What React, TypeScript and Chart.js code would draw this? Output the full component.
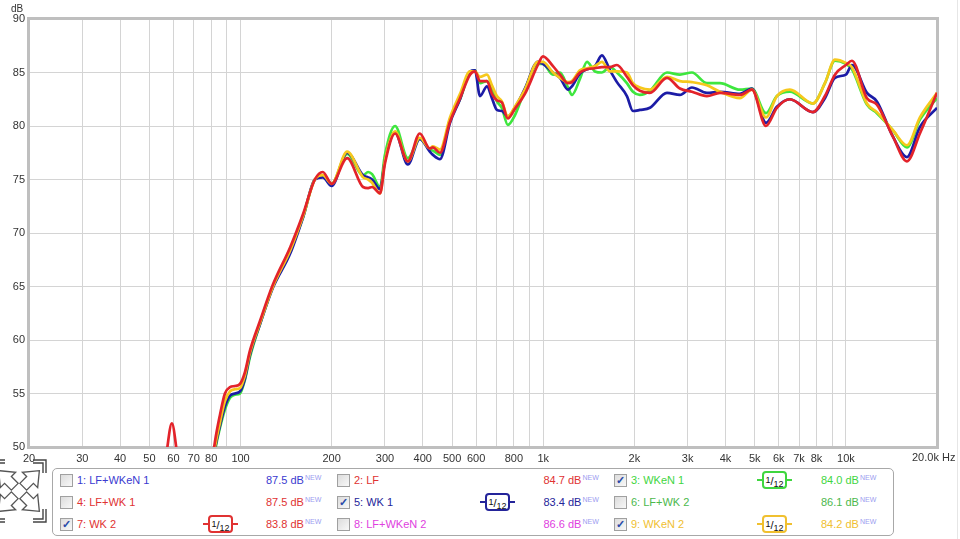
import React, { useEffect, useRef } from 'react';
import { Chart, registerables } from 'chart.js';

Chart.register(...registerables);

// Frequencies (Hz) shared by all measured traces
const freqs = [
  20, 40, 50, 54, 57, 59.3, 61.6, 65.5, 73, 79.3,
  82.3, 85.5, 88.8, 92.3, 95.8, 99.6, 103.4, 107.4,
  116, 128, 146, 161, 176, 187, 200,
  225, 254, 264, 272, 289,
  300, 324, 357, 391, 422, 432, 456,
  492, 531, 573, 595,
  618, 652, 677, 703, 730, 764, 806, 870,
  960, 998, 1077, 1136, 1207, 1244,
  1322, 1395, 1482, 1563, 1662, 1752,
  1890, 1979, 2086, 2252,
  2564, 2829, 3100, 3474, 3836, 4467, 4893,
  5444, 5917, 6532, 7782, 8526,
  9200, 10000, 10472, 11736, 12660,
  14304, 15910, 17560, 20000,
];

// 7: WK 2 (red)
const wk2 = [
  20, 30, 38, 44, 49.5, 52.2, 49.5, 43, 42.5, 47.0,
  50.5, 53.0, 55.0, 55.6, 55.7, 55.9, 57.0, 59.0,
  61.8, 65.2, 68.7, 71.8, 75.0, 75.7, 74.6,
  77.0, 74.3, 74.2, 74.3, 73.7,
  76.5, 79.3, 76.7, 79.3, 77.9, 78.0, 77.5,
  80.4, 82.6, 84.8, 85.1,
  84.2, 84.2, 83.0, 82.4, 82.2, 80.7, 81.6, 83.0,
  85.7, 86.5, 85.6, 84.8, 84.0, 84.1,
  85.0, 85.3, 85.4, 85.5, 85.5, 85.7,
  84.6, 83.8, 83.3, 83.1,
  84.5, 83.5, 83.2, 82.8, 83.1, 82.9, 83.4,
  80.0, 81.7, 82.5, 81.3, 82.8,
  84.8, 85.7, 86.1, 82.6, 82.0,
  79.0, 76.7, 79.3, 83.1,
];

// 9: WKeN 2 (yellow)
const wken2 = [
  20, 30, 33, 35, 36, 37, 38, 39.5, 42.5, 46.8,
  50.0, 52.3, 54.3, 55.2, 55.4, 55.5, 56.7, 58.8,
  61.6, 65.0, 68.4, 71.6, 75.0, 75.4, 74.6,
  77.6, 75.2, 75.0, 74.7, 73.7,
  76.8, 79.5, 76.7, 78.9, 77.9, 78.1, 77.8,
  80.8, 83.0, 85.1, 85.1,
  84.6, 84.8, 83.8, 82.8, 82.3, 80.9, 81.8, 83.4,
  86.0, 86.0, 85.0, 84.5, 84.1, 84.2,
  85.2, 85.4, 85.6, 86.0, 85.1, 85.1,
  85.0, 84.0, 83.6, 83.4,
  84.6, 84.2, 84.1, 83.8, 83.2, 82.6, 83.4,
  80.8, 82.8, 83.4, 82.1, 84.0,
  86.2, 85.9, 85.5, 82.1, 81.3,
  79.6, 78.2, 80.8, 83.1,
];

// 5: WK 1 (blue)
const wk1 = [
  20, 30, 33, 35, 36, 37, 38, 39.5, 42.5, 46.6,
  49.8, 52.0, 53.8, 54.8, 55.0, 55.2, 56.4, 58.6,
  61.5, 64.9, 68.1, 71.5, 75.0, 75.2, 74.4,
  77.5, 75.4, 75.2, 75.0, 74.1,
  76.8, 79.4, 76.4, 78.8, 77.6, 77.3, 76.9,
  80.3, 82.5, 85.1, 85.2,
  82.8, 83.7, 82.6, 81.5, 81.4, 80.9, 81.7, 83.5,
  86.0, 85.8, 85.0, 84.5, 83.4, 83.7,
  84.9, 85.3, 85.6, 86.6, 85.2, 84.1,
  82.8, 81.4, 81.5, 81.7,
  83.1, 82.9, 83.6, 83.1, 83.2, 83.0, 83.5,
  80.3, 81.8, 82.5, 81.3, 82.6,
  84.5, 84.8, 85.7, 83.1, 82.3,
  79.0, 77.1, 79.9, 81.7,
];

// 3: WKeN 1 (green)
const wken1 = [
  20, 30, 33, 35, 36, 37, 38, 39.5, 42.5, 46.4,
  49.6, 51.8, 53.5, 54.6, 54.9, 55.0, 56.3, 58.4,
  61.5, 65.0, 68.4, 71.5, 75.0, 75.3, 74.6,
  77.4, 75.4, 75.7, 75.5, 74.3,
  77.3, 80.0, 77.0, 78.8, 77.8, 77.7, 77.3,
  80.6, 82.5, 85.0, 85.2,
  84.0, 84.2, 83.5, 82.3, 81.7, 80.1, 81.0, 83.4,
  85.8, 85.8, 84.8, 85.0, 83.6, 82.9,
  84.4, 86.0, 85.1, 85.0, 85.5, 85.0,
  84.0, 83.2, 82.9, 83.3,
  85.0, 84.8, 85.0, 84.0, 84.0, 83.4, 83.5,
  81.2, 82.8, 83.2, 82.1, 84.0,
  86.1, 85.8, 85.3, 82.0, 81.2,
  79.6, 78.0, 80.6, 82.6,
];

const xTickValues = [
  20, 30, 40, 50, 60, 70, 80, 90, 100, 200, 300, 400, 500, 600, 700, 800, 900,
  1000, 2000, 3000, 4000, 5000, 6000, 7000, 8000, 9000, 10000, 20000,
];
const xTickLabels = [
  '20', '30', '40', '50', '60', '70', '80', '', '100', '200', '300', '400', '500', '600', '', '800', '',
  '1k', '2k', '3k', '4k', '5k', '6k', '7k', '8k', '', '10k', '',
];
const xEndLabel = '20.0k Hz';
const yMin = 50;
const yMax = 90;
const yStep = 5;

// Legend table (numbered 1..9, three columns)
const legendNames = [
  '1: LF+WKeN 1', '2: LF', '3: WKeN 1',
  '4: LF+WK 1', '5: WK 1', '6: LF+WK 2',
  '7: WK 2', '8: LF+WKeN 2', '9: WKeN 2',
];
const legendLevels = ['87.5', '84.7', '84.0', '87.5', '83.4', '86.1', '83.8', '86.6', '84.2'];
const legendChecked = [false, false, true, false, true, false, true, false, true];
const legendColors = [
  '#3a3ad0', '#e03232', '#3fd63f',
  '#e03232', '#24249a', '#4cb84c',
  '#e03232', '#e040e0', '#f0c030',
];

const FONT = '"Liberation Sans", Arial, sans-serif';

const framePlugin = {
  id: 'frame',
  beforeDatasetsDraw(chart: any) {
    const { ctx, chartArea } = chart;
    ctx.save();
    ctx.strokeStyle = '#bfbfbf';
    ctx.lineWidth = 3;
    ctx.strokeRect(chartArea.left - 0.5, chartArea.top - 0.5, chartArea.right - chartArea.left + 1, chartArea.bottom - chartArea.top + 1);
    ctx.restore();
  },
};

function Badge({ color, left, top }: { color: string; left: number; top: number }) {
  return (
    <div style={{ position: 'absolute', left, top, width: 35, height: 18 }}>
      <div style={{ position: 'absolute', left: 0, right: 0, top: 8, height: 2, background: color }} />
      <div
        style={{
          position: 'absolute', left: 5, top: 0, width: 21, height: 14,
          border: `2px solid ${color}`, borderRadius: 4, background: '#fff',
          fontFamily: FONT, color: '#111', lineHeight: '14px', textAlign: 'center', whiteSpace: 'nowrap',
        }}
      >
        <span style={{ fontSize: 9, position: 'relative', top: -2 }}>1</span>
        <span style={{ fontSize: 11 }}>/</span>
        <span style={{ fontSize: 9, position: 'relative', top: 2 }}>12</span>
      </div>
    </div>
  );
}

function CheckBox({ checked, left, top }: { checked: boolean; left: number; top: number }) {
  return (
    <div
      style={{
        position: 'absolute', left, top, width: 11, height: 11,
        border: '1px solid #a0a0a0',
        background: 'linear-gradient(135deg, #dcdcdc, #f8f8f8)',
        fontFamily: FONT, fontSize: 11, lineHeight: '11px', color: '#2a4aa8', textAlign: 'center', fontWeight: 'bold',
      }}
    >
      {checked ? '✓' : ''}
    </div>
  );
}

function ZoomIcon() {
  const arrow = '5,-4 13,-4 13,-9 24,0 13,9 13,4 5,4';
  const cx = 19;
  const cy = 35;
  return (
    <svg width={50} height={70} style={{ position: 'absolute', left: 0, top: 456 }}>
      {[-135, -45, 45, 135].map((a) => (
        <polygon key={a} points={arrow} transform={`translate(${cx},${cy}) rotate(${a}) scale(1.2)`} fill="#fff" stroke="#555" strokeWidth={1.1} />
      ))}
      <polyline points="33,4 46,4 46,17" fill="none" stroke="#444" strokeWidth={1.4} />
      <polyline points="33,7 43,7 43,17" fill="none" stroke="#444" strokeWidth={1.4} />
      <polyline points="33,66 46,66 46,53" fill="none" stroke="#444" strokeWidth={1.4} />
      <polyline points="33,63 43,63 43,53" fill="none" stroke="#444" strokeWidth={1.4} />
      <polyline points="5,4 -8,4 -8,17" fill="none" stroke="#444" strokeWidth={1.4} />
      <polyline points="5,7 -5,7 -5,17" fill="none" stroke="#444" strokeWidth={1.4} />
      <polyline points="5,66 -8,66 -8,53" fill="none" stroke="#444" strokeWidth={1.4} />
      <polyline points="5,63 -5,63 -5,53" fill="none" stroke="#444" strokeWidth={1.4} />
    </svg>
  );
}

export default function App() {
  const canvasRef = useRef<HTMLCanvasElement | null>(null);

  useEffect(() => {
    if (!canvasRef.current) return;
    const mk = (vals: number[]) => freqs.map((f, i) => ({ x: f, y: vals[i] }));
    const chart = new Chart(canvasRef.current, {
      type: 'line',
      data: {
        datasets: [
          { label: '7: WK 2', data: mk(wk2), borderColor: '#e3232a' },
          { label: '9: WKeN 2', data: mk(wken2), borderColor: '#f6c81c' },
          { label: '5: WK 1', data: mk(wk1), borderColor: '#1c1ca6' },
          { label: '3: WKeN 1', data: mk(wken1), borderColor: '#3ee63e' },
        ],
      },
      options: {
        animation: false,
        responsive: false,
        devicePixelRatio: 1,
        layout: { padding: { top: 19, right: 23, left: 0, bottom: 0 } },
        plugins: { legend: { display: false }, tooltip: { enabled: false } },
        elements: {
          point: { radius: 0 },
          line: { borderWidth: 2.7, cubicInterpolationMode: 'monotone', fill: false },
        },
        scales: {
          x: {
            type: 'logarithmic',
            min: 20,
            max: 20000,
            afterBuildTicks: (scale: any) => {
              scale.ticks = xTickValues.map((v) => ({ value: v }));
            },
            afterFit: (scale: any) => {
              scale.height = 23;
            },
            grid: { color: '#d4d4d4', lineWidth: 1, drawTicks: false },
            border: { display: false },
            ticks: {
              autoSkip: false,
              maxRotation: 0,
              minRotation: 0,
              padding: 5,
              color: '#333',
              font: { family: FONT, size: 11 },
              callback: (_v: any, i: number) => xTickLabels[i],
            },
          },
          y: {
            min: yMin,
            max: yMax,
            afterFit: (scale: any) => {
              scale.width = 29;
            },
            grid: { color: '#d4d4d4', lineWidth: 1, drawTicks: false },
            border: { display: false },
            ticks: {
              stepSize: yStep,
              padding: 4,
              color: '#333',
              font: { family: FONT, size: 11 },
            },
          },
        },
      },
      plugins: [framePlugin],
    } as any);
    return () => chart.destroy();
  }, []);

  const rowCenters = [480, 502, 524];

  return (
    <div style={{ position: 'fixed', left: 0, top: 0, width: 960, height: 539, background: '#fff', overflow: 'hidden' }}>
      <canvas ref={canvasRef} width={960} height={470} style={{ position: 'absolute', left: 0, top: 0, display: 'block' }} />
      <div style={{ position: 'absolute', left: 11, top: 3, fontFamily: FONT, fontSize: 10, color: '#333' }}>dB</div>
      <div style={{ position: 'absolute', left: 912, top: 451, fontFamily: FONT, fontSize: 11, lineHeight: '13px', color: '#333', whiteSpace: 'nowrap' }}>{xEndLabel}</div>
      <div style={{ position: 'absolute', left: 957, top: 0, width: 1, height: 539, background: '#e6e6e6' }} />
      <ZoomIcon />
      <div
        style={{
          position: 'absolute', left: 52, top: 468, width: 840, height: 66,
          border: '1px solid #a8a8a8', borderRadius: 5, background: '#fff',
        }}
      />
      {legendNames.map((name, i) => {
        const col = i % 3;
        const row = Math.floor(i / 3);
        const cy = rowCenters[row];
        const color = legendColors[i];
        return (
          <React.Fragment key={name}>
            <CheckBox checked={legendChecked[i]} left={60 + col * 277} top={cy - 6} />
            <div style={{ position: 'absolute', left: 77 + col * 277, top: cy - 7, fontFamily: FONT, fontSize: 11, lineHeight: '14px', color, whiteSpace: 'nowrap' }}>
              {name}
            </div>
            {legendChecked[i] ? <Badge color={color} left={203 + col * 277} top={cy - 9} /> : null}
            <div style={{ position: 'absolute', left: 266 + col * 277.5, top: cy - 7, fontFamily: FONT, fontSize: 11, lineHeight: '14px', color, whiteSpace: 'nowrap' }}>
              {legendLevels[i]} dB
              <span style={{ fontSize: 7, color: '#9c9cf0', position: 'relative', top: -4, marginLeft: 1 }}>NEW</span>
            </div>
          </React.Fragment>
        );
      })}
    </div>
  );
}
